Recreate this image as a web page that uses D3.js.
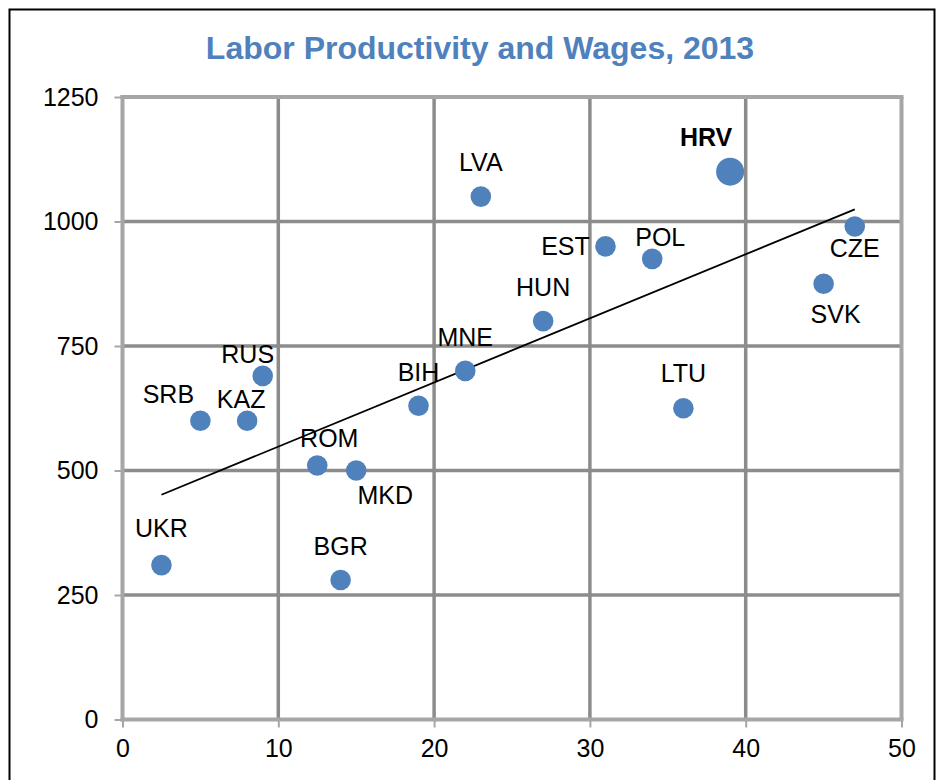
<!DOCTYPE html>
<html>
<head>
<meta charset="utf-8">
<script src="https://cdn.jsdelivr.net/npm/d3@7/dist/d3.min.js"></script>
<style>
  body { margin: 0; background: #fff; }
  svg text { font-family: "Liberation Sans", Arial, sans-serif; }
</style>
</head>
<body>
<div id="chart-area"></div>
<script>
// country codes, productivity (x) and wages (y)
const countries = ["UKR", "SRB", "KAZ", "RUS", "ROM", "MKD", "BGR", "BIH", "MNE",
                   "LVA", "HUN", "EST", "POL", "LTU", "HRV", "SVK", "CZE"];
const productivity = [2.5, 5, 8, 9, 12.5, 15, 14, 19, 22, 23, 27, 31, 34, 36, 39, 45, 47];
const wages = [310, 600, 600, 690, 510, 500, 280, 630, 700, 1050, 800, 950, 925, 625, 1100, 875, 990];
const xTicks = [0, 10, 20, 30, 40, 50];
const yTicks = [0, 250, 500, 750, 1000, 1250];
const highlight = "HRV";

// label placement relative to each point [dx, dy]
const labelOffset = {
  UKR: [0, -28], SRB: [-32, -18], KAZ: [-6, -13], RUS: [-15, -13], ROM: [12, -19],
  MKD: [29, 33], BGR: [0, -25], BIH: [0, -25], MNE: [0, -25], LVA: [0, -26],
  HUN: [0, -25], EST: [-40, 9], POL: [8, -13], LTU: [0, -26], HRV: [-24, -26],
  CZE: [0, 31], SVK: [12, 39]
};

const data = countries.map((c, i) => ({ name: c, x: productivity[i], y: wages[i] }));

const svg = d3.select("#chart-area")
  .append("svg")
  .attr("width", 938)
  .attr("height", 780);

// outer frame
svg.append("rect")
  .attr("x", 9.5).attr("y", 9.5)
  .attr("width", 925).attr("height", 800)
  .attr("fill", "#fff")
  .attr("stroke", "#000")
  .attr("stroke-width", 2);

svg.append("text")
  .attr("x", 480).attr("y", 59)
  .attr("text-anchor", "middle")
  .attr("font-size", 32)
  .attr("font-weight", "bold")
  .attr("fill", "#4f81bd")
  .text("Labor Productivity and Wages, 2013");

const x = d3.scaleLinear().domain([0, 50]).range([122.5, 901.5]);
const y = d3.scaleLinear().domain([0, 1250]).range([719.5, 97]);

// grid
svg.append("g").selectAll("line").data(xTicks.filter(d => d > 0 && d < 50))
  .enter().append("line")
  .attr("x1", d => x(d)).attr("x2", d => x(d))
  .attr("y1", y(1250)).attr("y2", y(0))
  .attr("stroke", "#8c8c8c").attr("stroke-width", 3.5);

svg.append("g").selectAll("line").data(yTicks.filter(d => d > 0 && d < 1250))
  .enter().append("line")
  .attr("x1", x(0)).attr("x2", x(50))
  .attr("y1", d => y(d)).attr("y2", d => y(d))
  .attr("stroke", "#8c8c8c").attr("stroke-width", 3.5);

// border lines of plot area
const edge = "#a6a6a6";
svg.append("line").attr("x1", x(0) - 2).attr("x2", x(50) + 2).attr("y1", y(1250)).attr("y2", y(1250))
  .attr("stroke", edge).attr("stroke-width", 4);
svg.append("line").attr("x1", x(50)).attr("x2", x(50)).attr("y1", y(1250)).attr("y2", y(0))
  .attr("stroke", edge).attr("stroke-width", 4);

// axes
const xAxis = d3.axisBottom(x).tickValues(xTicks).tickFormat(d3.format("d")).tickSize(8).tickPadding(12);
const yAxis = d3.axisLeft(y).tickValues(yTicks).tickFormat(d3.format("d")).tickSize(8).tickPadding(16);

const gx = svg.append("g").attr("transform", `translate(0,${y(0)})`).call(xAxis);
const gy = svg.append("g").attr("transform", `translate(${x(0)},0)`).call(yAxis);

[gx, gy].forEach(g => {
  g.select(".domain").attr("stroke", edge).attr("stroke-width", 4);
  g.selectAll(".tick line").attr("stroke", edge).attr("stroke-width", 2);
  g.selectAll(".tick text")
    .attr("font-family", "'Liberation Sans', Arial, sans-serif")
    .attr("font-size", 25)
    .attr("fill", "#000");
});
gx.select(".domain").attr("d", `M${x(0) - 2},0H${x(50) + 2}`);
gy.select(".domain").attr("d", `M0,${y(1250) - 2}V${y(0) + 2}`);

// linear trend (least squares)
const mx = d3.mean(productivity), my = d3.mean(wages);
const slope = d3.sum(data, d => (d.x - mx) * (d.y - my)) / d3.sum(data, d => (d.x - mx) ** 2);
const intercept = my - slope * mx;
const [xmin, xmax] = d3.extent(productivity);

svg.append("line")
  .attr("x1", x(xmin)).attr("y1", y(intercept + slope * xmin))
  .attr("x2", x(xmax)).attr("y2", y(intercept + slope * xmax))
  .attr("stroke", "#000").attr("stroke-width", 1.8);

// points
svg.append("g").selectAll("circle").data(data)
  .enter().append("circle")
  .attr("cx", d => x(d.x))
  .attr("cy", d => y(d.y))
  .attr("r", d => d.name === highlight ? 14 : 10.3)
  .attr("fill", "#4f81bd");

// labels
svg.append("g").selectAll("text").data(data)
  .enter().append("text")
  .attr("x", d => x(d.x) + labelOffset[d.name][0])
  .attr("y", d => y(d.y) + labelOffset[d.name][1])
  .attr("text-anchor", "middle")
  .attr("font-size", 25)
  .attr("font-weight", d => d.name === highlight ? "bold" : "normal")
  .attr("fill", "#000")
  .text(d => d.name);
</script>
</body>
</html>
